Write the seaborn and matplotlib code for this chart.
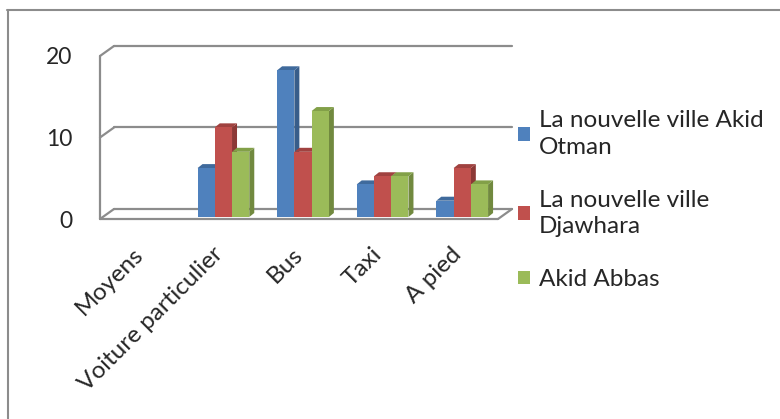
import numpy as np
import pandas as pd
import matplotlib
matplotlib.use("Agg")
import matplotlib.pyplot as plt
from matplotlib.patches import Polygon, Patch
from matplotlib.lines import Line2D
import matplotlib.transforms as mtransforms
import seaborn as sns

categories = ["Moyens", "Voiture particulier", "Bus", "Taxi", "A pied"]
series = ["La nouvelle ville Akid\nOtman", "La nouvelle ville\nDjawhara", "Akid Abbas"]
akid_otman = [0, 6, 18, 4, 2]
djawhara = [0, 11, 8, 5, 6]
akid_abbas = [0, 8, 13, 5, 4]
y_ticks = [0, 10, 20]

front_colors = ["#4F81BD", "#C0504D", "#9BBB59"]
side_colors = ["#385D8A", "#8C3836", "#71893F"]
top_colors = ["#3F6A9C", "#A04240", "#82A048"]
grid_color = "#8C8C8C"

rows = []
for name, vals in zip(series, [akid_otman, djawhara, akid_abbas]):
    for cat, v in zip(categories, vals):
        rows.append({"cat": cat, "serie": name, "val": v})
df = pd.DataFrame(rows)

sns.set_style("white")
plt.rcParams["font.family"] = ["Lato", "DejaVu Sans"]

W, H = 780, 419
fig = plt.figure(figsize=(W / 100, H / 100), dpi=100)
ax = fig.add_axes([100 / W, 200 / H, 398 / W, 163 / H])

sns.barplot(data=df, x="cat", y="val", hue="serie", order=categories,
            hue_order=series, palette=front_colors, width=0.65,
            saturation=1, legend=False, ax=ax, linewidth=0)

ax.set_xlim(-0.5, len(categories) - 0.5)
ax.set_ylim(0, 20)
for s in ax.spines.values():
    s.set_visible(False)

# pixel -> data conversions for the pseudo 3D look
px_x = (len(categories)) / 398.0
px_y = 20 / 163.0
wall_dx, wall_dy = 14 * px_x, 10 * px_y
xl, xr = -0.5, len(categories) - 0.5

# back wall gridlines and connectors
line_kw = dict(color=grid_color, lw=1.6, clip_on=False, zorder=0.5)
for v in y_ticks:
    ax.plot([xl + wall_dx, xr + wall_dx], [v + wall_dy, v + wall_dy], **line_kw)
    ax.plot([xl, xl + wall_dx], [v, v + wall_dy], **line_kw)
ax.plot([xr, xr + wall_dx], [0, wall_dy], **line_kw)
ax.plot([xl, xl], [0, 20], **line_kw)
ax.plot([xl, xr], [0, 0], **line_kw)

# 3D faces of the bars
bar_shift = mtransforms.offset_copy(ax.transData, fig=fig, x=4, y=2, units="dots")
dx, dy = 5 * px_x, 4 * px_y
n = len(categories)
for i, p in enumerate(ax.patches):
    k = i // n
    p.set_transform(bar_shift)
    p.set_zorder(3)
    h = p.get_height()
    if not h or np.isnan(h):
        continue
    x0, w = p.get_x(), p.get_width()
    side = Polygon([(x0 + w, 0), (x0 + w + dx, dy), (x0 + w + dx, h + dy), (x0 + w, h)],
                   closed=True, facecolor=side_colors[k], edgecolor="none",
                   transform=bar_shift, zorder=2)
    top = Polygon([(x0, h), (x0 + dx, h + dy), (x0 + w + dx, h + dy), (x0 + w, h)],
                  closed=True, facecolor=top_colors[k], edgecolor="none",
                  transform=bar_shift, zorder=2)
    ax.add_patch(side)
    ax.add_patch(top)

# ticks
fs = 16.5
ax.set_yticks(y_ticks)
ax.set_yticklabels([str(v) for v in y_ticks], fontsize=fs)
ax.set_xticks(np.arange(n + 1) - 0.5, minor=True)
ax.set_xticks(np.arange(n))
ax.set_xticklabels(categories, fontsize=17.5, rotation=45, ha="right", va="center",
                   rotation_mode="anchor")
ax.tick_params(axis="x", which="major", length=0, pad=23)
ax.tick_params(axis="x", which="minor", length=6, width=1.6, color=grid_color, direction="out")
ax.tick_params(axis="y", length=6, width=1.6, color=grid_color, pad=14)
ax.set_xlabel("")
ax.set_ylabel("")

handles = [Patch(facecolor=c, edgecolor="none") for c in front_colors]
leg = fig.legend(handles, series, loc="upper left", bbox_to_anchor=(518 / W, 1 - 110 / H),
                 frameon=False, fontsize=17.5, handlelength=0.5, handleheight=0.5,
                 handletextpad=0.35, labelspacing=1.3, borderpad=0, borderaxespad=0)
for t in leg.get_texts():
    t.set_linespacing(1.35)

# chart area border (only top and left visible)
fig.add_artist(Line2D([7.5 / W, 7.5 / W], [0, 1 - 10 / H], transform=fig.transFigure,
                      color=grid_color, lw=1.5))
fig.add_artist(Line2D([7 / W, 1], [1 - 10.5 / H, 1 - 10.5 / H], transform=fig.transFigure,
                      color=grid_color, lw=1.5))

fig.savefig("out.png", dpi=100, facecolor="white")
